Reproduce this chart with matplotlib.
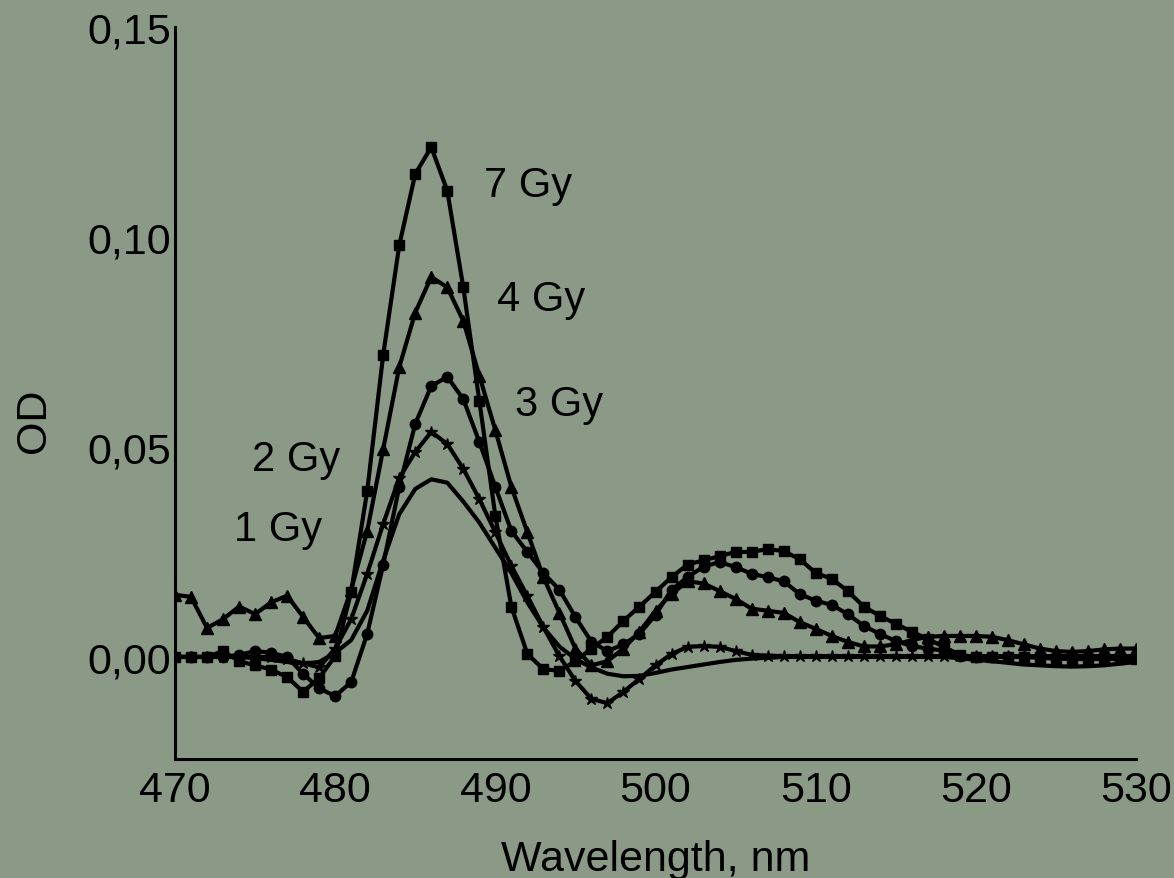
import matplotlib
matplotlib.use("Agg")
import matplotlib.pyplot as plt
import numpy as np

plt.rcParams['font.family'] = ['Liberation Sans', 'DejaVu Sans']

# ---------------- data ----------------
wavelength = list(range(470, 531))

od_1gy = [0.0, 0.0, 0.0, 0.0, 0.0, -0.0003, -0.0007, -0.0012, -0.0016, -0.0012,
          0.001, 0.004, 0.011, 0.023, 0.034, 0.040, 0.0423, 0.0415, 0.037, 0.032,
          0.026, 0.020, 0.013, 0.007, 0.0025, -0.0005, -0.0025, -0.004, -0.0046, -0.0045,
          -0.0038, -0.003, -0.0024, -0.0018, -0.0012, -0.0007, -0.0004, -0.0002, 0.0, 0.0,
          0.0, 0.0, 0.0, 0.0, 0.0, 0.0, 0.0, 0.0, 0.0, -0.0003,
          -0.0007, -0.001, -0.0014, -0.0018, -0.002, -0.0022, -0.0023, -0.0022, -0.002, -0.0016,
          -0.0012]

od_2gy = [0.0, 0.0, 0.0, 0.0, 0.0, 0.0, 0.0, -0.0005, -0.0015, -0.0025,
          0.002, 0.009, 0.0198, 0.0317, 0.0426, 0.0488, 0.0536, 0.0507, 0.0448, 0.0376,
          0.0297, 0.0217, 0.0145, 0.0071, 0.0002, -0.0057, -0.010, -0.011, -0.0083, -0.0052,
          -0.002, 0.0007, 0.0024, 0.0026, 0.0024, 0.0014, 0.0005, 0.0003, 0.0002, 0.0002,
          0.0002, 0.0002, 0.0002, 0.0002, 0.0002, 0.0002, 0.0002, 0.0002, 0.0002, 0.0002,
          0.0002, 0.0002, 0.0002, 0.0002, 0.0002, 0.0002, 0.0002, 0.0002, 0.0002, 0.0002,
          0.0002]

od_3gy = [0.0, 0.0, 0.0, 0.0, 0.0005, 0.0014, 0.001, 0.0, -0.004, -0.0075,
          -0.0093, -0.006, 0.0055, 0.022, 0.0405, 0.0555, 0.0645, 0.0667, 0.0614, 0.0512,
          0.0405, 0.030, 0.025, 0.020, 0.016, 0.0095, 0.0036, 0.0014, 0.003, 0.0055,
          0.010, 0.016, 0.019, 0.0215, 0.0226, 0.0214, 0.0198, 0.019, 0.018, 0.015,
          0.0134, 0.0124, 0.0102, 0.0074, 0.0055, 0.0038, 0.0026, 0.002, 0.0015, 0.0003,
          0.0, 0.0, 0.0, 0.0, 0.0, 0.0, 0.0, 0.0, 0.0, 0.0,
          0.0]

od_4gy = [0.0148, 0.0143, 0.0069, 0.009, 0.012, 0.0102, 0.013, 0.0146, 0.0095, 0.0045,
          0.005, 0.016, 0.030, 0.0495, 0.069, 0.082, 0.0905, 0.088, 0.080, 0.067,
          0.054, 0.0405, 0.0297, 0.019, 0.0105, 0.002, -0.002, -0.001, 0.002, 0.006,
          0.011, 0.015, 0.018, 0.0175, 0.0157, 0.0138, 0.0115, 0.011, 0.0105, 0.0083,
          0.0067, 0.005, 0.0036, 0.0025, 0.0025, 0.003, 0.004, 0.0048, 0.005, 0.005,
          0.005, 0.0048, 0.004, 0.003, 0.002, 0.0014, 0.0012, 0.0014, 0.0018, 0.002,
          0.002]

od_7gy = [0.0, 0.0, 0.0, 0.0014, -0.001, -0.002, -0.003, -0.0048, -0.0083, -0.005,
          0.0002, 0.0155, 0.0395, 0.072, 0.098, 0.115, 0.1214, 0.111, 0.088, 0.061,
          0.0336, 0.012, 0.0007, -0.0029, -0.0033, -0.001, 0.002, 0.0048, 0.0086, 0.012,
          0.0155, 0.019, 0.022, 0.023, 0.024, 0.025, 0.025, 0.0257, 0.0252, 0.0233,
          0.020, 0.0186, 0.0157, 0.012, 0.0098, 0.0079, 0.006, 0.0043, 0.0024, 0.0005,
          0.0, 0.0, 0.0, 0.0, -0.0002, -0.0004, -0.0005, -0.0005, -0.0005, -0.0005,
          -0.0005]

series_labels = ["1 Gy", "2 Gy", "3 Gy", "4 Gy", "7 Gy"]
label_x = [473.7, 474.8, 491.2, 490.1, 489.3]
label_y = [0.0305, 0.0471, 0.0602, 0.0852, 0.1124]

xticks = [470, 480, 490, 500, 510, 520, 530]
yticks = [0.00, 0.05, 0.10, 0.15]
ytick_labels = ["0,00", "0,05", "0,10", "0,15"]

# ---------------- figure ----------------
bg = '#8b9a87'
fig = plt.figure(figsize=(11.74, 8.79), dpi=100, facecolor=bg)
ax = fig.add_axes([175/1174, 1 - 760/879, (1136-175)/1174, (760-28)/879])
ax.set_facecolor(bg)

lw = 3.0
ax.plot(wavelength, od_1gy, color='black', lw=lw)
ax.plot(wavelength, od_2gy, color='black', lw=lw, marker='*', ms=9, mec='black', mfc='black')
ax.plot(wavelength, od_3gy, color='black', lw=lw, marker='o', ms=7.5)
ax.plot(wavelength, od_4gy, color='black', lw=lw, marker='^', ms=8)
ax.plot(wavelength, od_7gy, color='black', lw=lw, marker='s', ms=6.5)

for lab, lx, ly in zip(series_labels, label_x, label_y):
    ax.text(lx, ly, lab, fontsize=30, ha='left', va='center', color='black')

ax.set_xlim(470, 530)
ax.set_ylim(-0.0243, 0.15)
ax.set_xticks(xticks)
ax.set_xticklabels([str(v) for v in xticks])
ax.set_yticks(yticks)
ax.set_yticklabels(ytick_labels)
ax.tick_params(axis='both', length=0, labelsize=31, colors='black')
ax.tick_params(axis='x', pad=8)
ax.tick_params(axis='y', pad=3)

for s in ['top', 'right']:
    ax.spines[s].set_visible(False)
for s in ['left', 'bottom']:
    ax.spines[s].set_linewidth(2.2)
    ax.spines[s].set_color('black')

ax.set_xlabel("Wavelength, nm", fontsize=31)
ax.xaxis.set_label_coords(0.5, -0.109)
ax.set_ylabel("OD", fontsize=31)
ax.yaxis.set_label_coords(-0.126, 0.464)

fig.savefig("out.png", dpi=100, facecolor=bg)
